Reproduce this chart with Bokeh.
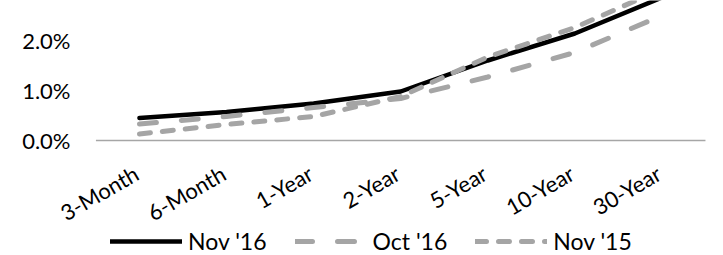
import math
from bokeh.plotting import figure
from bokeh.models import Legend, LegendItem, Range1d
from bokeh.core.properties import value
from bokeh.embed import file_html
from bokeh.resources import INLINE

# ---- data ----
maturities = ["3-Month", "6-Month", "1-Year", "2-Year", "5-Year", "10-Year", "30-Year"]
nov16 = [0.45, 0.57, 0.74, 0.98, 1.60, 2.14, 2.86]
oct16 = [0.33, 0.48, 0.66, 0.84, 1.27, 1.76, 2.50]
nov15 = [0.13, 0.32, 0.48, 0.88, 1.67, 2.26, 3.03]
series_names = ["Nov '16", "Oct '16", "Nov '15"]
y_ticks = [0, 1, 2]
y_tick_labels = ["0.0%", "1.0%", "2.0%"]

FONT = "Lato"
TICK_SIZE = "22px"
LEG_SIZE = "23px"
GRAY = "#A5A5A5"

x_idx = list(range(len(maturities)))

p = figure(width=723, height=255,
           x_range=Range1d(-1.596, 6.707),
           y_range=Range1d(-2.3, 2.8),
           x_axis_location=None, y_axis_location=None,
           output_backend="svg", toolbar_location=None,
           min_border_left=0, min_border_right=0,
           min_border_top=0, min_border_bottom=0)
p.outline_line_color = None
p.xgrid.grid_line_color = None
p.ygrid.grid_line_color = None
p.background_fill_color = "white"
p.border_fill_color = "white"

# category axis line at 0% spanning the category band
p.segment(x0=[x_idx[0] - 0.5], y0=[0], x1=[x_idx[-1] + 0.5], y1=[0],
          line_color="#A6A6A6", line_width=1.5)

r1 = p.line(x_idx, nov16, line_color="black", line_width=4.5,
            line_join="round", line_cap="round")
r2 = p.line(x_idx, oct16, line_color=GRAY, line_width=5,
            line_dash="17 25", line_cap="round", line_join="round")
r3 = p.line(x_idx, nov15, line_color=GRAY, line_width=5,
            line_dash="11 12", line_cap="round", line_join="round")

# category labels (rotated)
p.text(x=x_idx, y=[0] * len(maturities), text=maturities,
       angle=math.pi / 6, text_align="right", text_baseline="middle",
       x_offset=-3, y_offset=31,
       text_font=value(FONT), text_font_size=TICK_SIZE, text_color="black")

# value-axis labels
p.text(x=[x_idx[0]] * len(y_ticks), y=y_ticks, text=y_tick_labels,
       text_align="right", text_baseline="middle",
       x_offset=-69, y_offset=0,
       text_font=value(FONT), text_font_size=TICK_SIZE, text_color="black")

legend = Legend(items=[LegendItem(label=series_names[0], renderers=[r1]),
                       LegendItem(label=series_names[1], renderers=[r2]),
                       LegendItem(label=series_names[2], renderers=[r3])],
                orientation="horizontal", location=(110, 0),
                glyph_width=72, glyph_height=20, label_standoff=6, spacing=28,
                padding=0, margin=0, border_line_color=None,
                background_fill_alpha=0,
                label_text_font=FONT, label_text_font_size=LEG_SIZE,
                label_text_color="black", label_height=20)
p.add_layout(legend, "center")

open("out.html", "w").write(file_html(p, INLINE))
